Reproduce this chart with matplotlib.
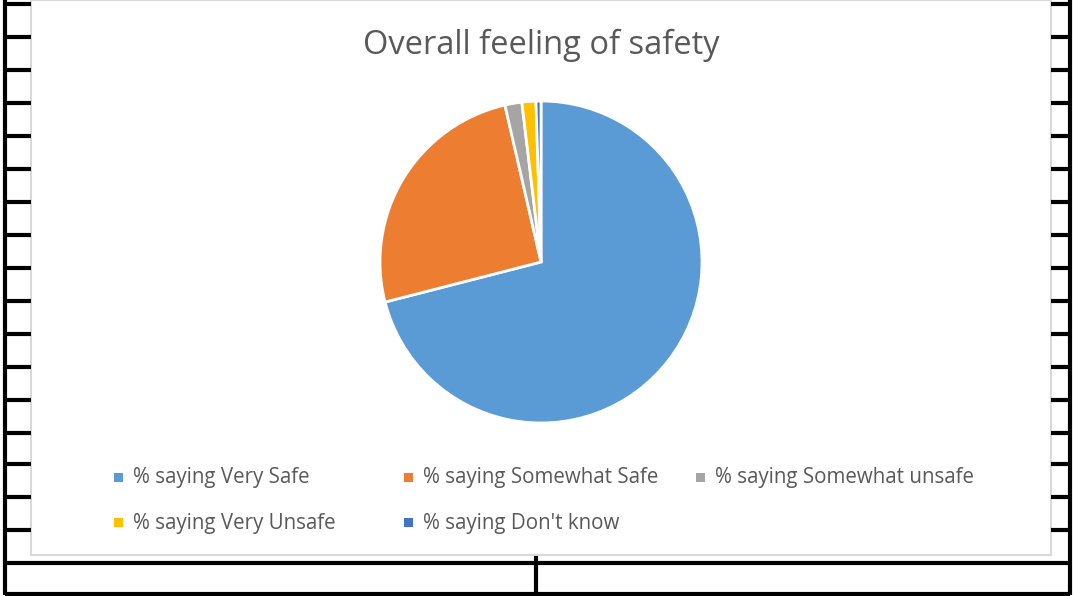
import matplotlib
matplotlib.use("Agg")
import matplotlib.pyplot as plt
from matplotlib.patches import Rectangle

# ─── Datos ──────────────────────────────────────────────────────────────
labels = ['% saying Very Safe', '% saying Somewhat Safe', '% saying Somewhat unsafe',
          '% saying Very Unsafe', "% saying Don't know"]
values = [71.0, 25.4, 1.7, 1.4, 0.5]
colors = ['#5B9BD5', '#ED7D31', '#A5A5A5', '#FFC000', '#4472C4']
title = 'Overall feeling of safety'

W, H = 1073, 596
TXT = '#595959'
FONT = 'Open Sans'

fig = plt.figure(figsize=(W / 100, H / 100), dpi=100)

# Fondo tipo planilla: bordes de celdas alrededor del gráfico (coords en pixeles)
bg = fig.add_axes([0, 0, 1, 1])
bg.set_xlim(0, W)
bg.set_ylim(H, 0)
bg.axis('off')
lw = 3
bg.plot([5, 5], [0, 595], color='black', lw=lw, solid_capstyle='butt')
bg.plot([1070, 1070], [0, 595], color='black', lw=lw, solid_capstyle='butt')
row_y = [4, 37, 70, 103, 136, 169, 202, 235, 268, 301, 334, 367, 400, 433, 464, 497, 530]
for y in row_y:
    bg.plot([5, 31], [y, y], color='black', lw=lw, solid_capstyle='butt')
    bg.plot([1051, 1070], [y, y], color='black', lw=lw, solid_capstyle='butt')
bg.plot([5, 1070], [563, 563], color='black', lw=lw, solid_capstyle='butt')
bg.plot([5, 1070], [594, 594], color='black', lw=lw, solid_capstyle='butt')
bg.plot([536, 536], [556, 594], color='black', lw=lw, solid_capstyle='butt')

# Área del gráfico
bg.add_patch(Rectangle((31, 0), 1020, 555, facecolor='white', edgecolor='#D9D9D9', lw=1.5))

# Torta
cx, cy, r = 541, 262, 161
ax = fig.add_axes([(cx - r) / W, (H - cy - r) / H, 2 * r / W, 2 * r / H])
ax.pie(values, colors=colors, startangle=90, counterclock=False,
       wedgeprops=dict(edgecolor='white', linewidth=2))
ax.set_xlim(-1, 1)
ax.set_ylim(-1, 1)
ax.set_aspect('equal')
ax.axis('off')

fig.text(541 / W, 1 - 45 / H, title, ha='center', va='center',
         fontsize=23.5, color=TXT, family=FONT)

# Leyenda a mano, columnas fijas como en Excel
col_x = [118, 408, 700]
row_ly = [477, 522]
for i, (lab, col) in enumerate(zip(labels, colors)):
    x = col_x[i % 3]
    y = row_ly[i // 3]
    bg.add_patch(Rectangle((x - 4.5, y - 4.5), 9, 9, facecolor=col, edgecolor='none'))
    bg.text(x + 15, y + 1, lab, ha='left', va='center', fontsize=14.8, color=TXT, family=FONT)

fig.savefig('out.png', dpi=100)
